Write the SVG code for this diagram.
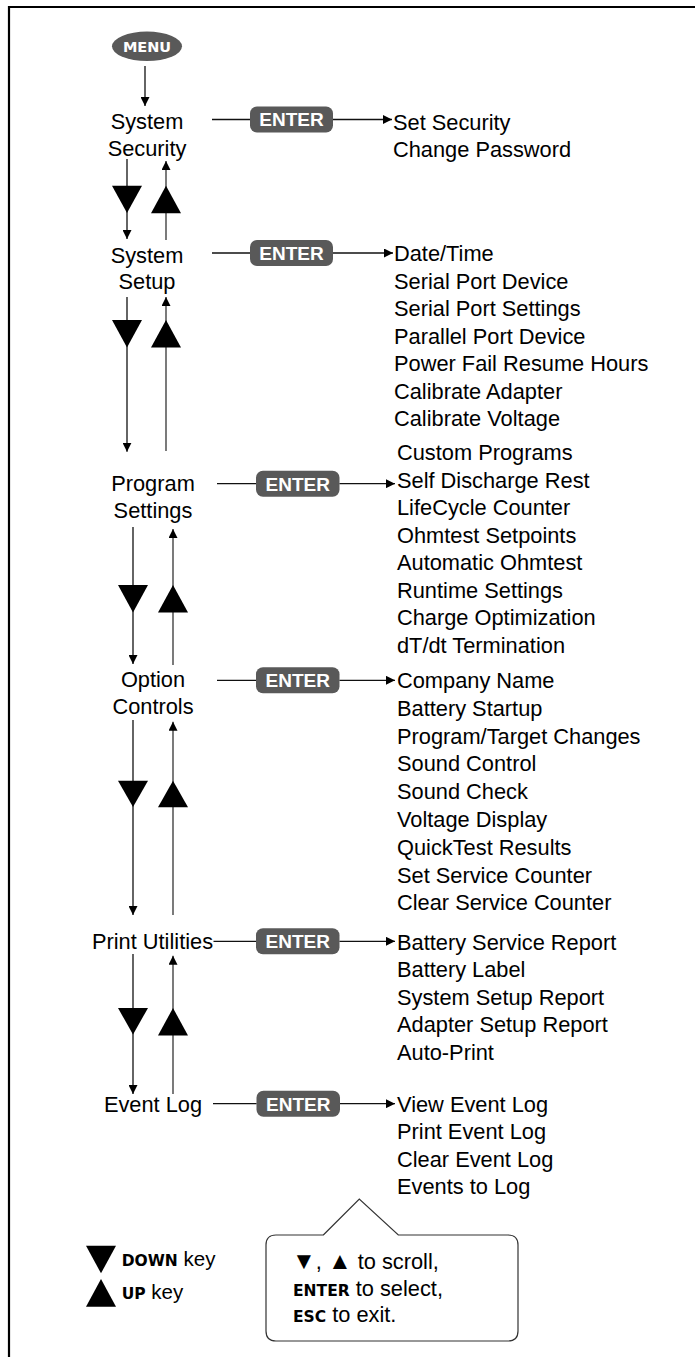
<svg xmlns="http://www.w3.org/2000/svg" width="695" height="1357" viewBox="0 0 695 1357">
<style>
.t{font-family:"Liberation Sans",Arial,sans-serif;font-size:21.8px;fill:#000}
.m{text-anchor:middle}
.btn{font-family:"Liberation Sans",Arial,sans-serif;font-weight:bold;font-size:19px;fill:#fff;text-anchor:middle}
.box{fill:#595959}
.k{font-family:"DejaVu Sans",Verdana,sans-serif;font-weight:bold;font-size:15.5px}
.ln{stroke:#111;stroke-width:1.3;fill:none}
.up{stroke:#333;stroke-width:1.3;fill:none}
.tri{fill:#000}
.lg{font-family:"Liberation Sans",Arial,sans-serif;font-size:20.5px;fill:#000}
.co{font-family:"Liberation Sans",Arial,sans-serif;font-size:21.8px;fill:#000}
.sym{font-family:"Liberation Sans","DejaVu Sans",sans-serif;font-size:24px}
</style>
<defs>
<marker id="ah" markerUnits="userSpaceOnUse" markerWidth="9" markerHeight="9" refX="9" refY="4.5" orient="auto">
<path d="M0,0 L9,4.5 L0,9 z" fill="#000"/>
</marker>
</defs>
<path d="M8,7 H695 M9,6 V1357" stroke="#000" stroke-width="2.2" fill="none"/>

<g id="menu">
<ellipse cx="147" cy="46.3" rx="35" ry="14.7" class="box"/>
<text x="147" y="51.5" class="k m" style="fill:#fff;font-size:14.5px">MENU</text>
</g>

<g id="system-security">
<text x="147" y="129.3" class="t m">System</text>
<text x="147" y="156" class="t m">Security</text>
</g>
<g id="enter1"><rect x="250" y="106.5" width="83" height="26" rx="7" class="box"/><text x="291.5" y="126.3" class="btn">ENTER</text></g>
<g id="list1">
<text x="393" y="129.5" class="t">Set Security</text>
<text x="393" y="157" class="t">Change Password</text>
</g>

<g id="system-setup">
<text x="147" y="263" class="t m">System</text>
<text x="147" y="289" class="t m">Setup</text>
</g>
<g id="enter2"><rect x="250" y="240" width="83" height="26" rx="7" class="box"/><text x="291.5" y="259.8" class="btn">ENTER</text></g>
<g id="list2">
<text x="394" y="261" class="t">Date/Time</text>
<text x="394" y="288.5" class="t">Serial Port Device</text>
<text x="394" y="316" class="t">Serial Port Settings</text>
<text x="394" y="343.5" class="t">Parallel Port Device</text>
<text x="394" y="371" class="t">Power Fail Resume Hours</text>
<text x="394" y="398.5" class="t">Calibrate Adapter</text>
<text x="394" y="426" class="t">Calibrate Voltage</text>
</g>

<g id="program-settings">
<text x="153" y="491" class="t m">Program</text>
<text x="153" y="518" class="t m">Settings</text>
</g>
<g id="enter3"><rect x="256" y="470.7" width="83.5" height="26" rx="7" class="box"/><text x="297.7" y="490.5" class="btn">ENTER</text></g>
<g id="list3">
<text x="397" y="460" class="t">Custom Programs</text>
<text x="397" y="487.5" class="t">Self Discharge Rest</text>
<text x="397" y="515" class="t">LifeCycle Counter</text>
<text x="397" y="542.5" class="t">Ohmtest Setpoints</text>
<text x="397" y="570" class="t">Automatic Ohmtest</text>
<text x="397" y="597.5" class="t">Runtime Settings</text>
<text x="397" y="625" class="t">Charge Optimization</text>
<text x="397" y="652.5" class="t">dT/dt Termination</text>
</g>

<g id="option-controls">
<text x="153" y="687" class="t m">Option</text>
<text x="153" y="714" class="t m">Controls</text>
</g>
<g id="enter4"><rect x="256" y="667.3" width="83.5" height="26" rx="7" class="box"/><text x="297.7" y="687.1" class="btn">ENTER</text></g>
<g id="list4">
<text x="397" y="688" class="t">Company Name</text>
<text x="397" y="715.8" class="t">Battery Startup</text>
<text x="397" y="743.6" class="t">Program/Target Changes</text>
<text x="397" y="771.4" class="t">Sound Control</text>
<text x="397" y="799.2" class="t">Sound Check</text>
<text x="397" y="827" class="t">Voltage Display</text>
<text x="397" y="854.8" class="t">QuickTest Results</text>
<text x="397" y="882.6" class="t">Set Service Counter</text>
<text x="397" y="910.4" class="t">Clear Service Counter</text>
</g>

<g id="print-utilities">
<text x="152.5" y="948.5" class="t m">Print Utilities</text>
</g>
<g id="enter5"><rect x="256" y="928.3" width="83.5" height="26" rx="7" class="box"/><text x="297.7" y="948.1" class="btn">ENTER</text></g>
<g id="list5">
<text x="397" y="949.5" class="t">Battery Service Report</text>
<text x="397" y="977" class="t">Battery Label</text>
<text x="397" y="1004.5" class="t">System Setup Report</text>
<text x="397" y="1032" class="t">Adapter Setup Report</text>
<text x="397" y="1059.5" class="t">Auto-Print</text>
</g>

<g id="event-log">
<text x="153" y="1112" class="t m">Event Log</text>
</g>
<g id="enter6"><rect x="256.5" y="1090.7" width="83.5" height="26" rx="7" class="box"/><text x="298.2" y="1110.5" class="btn">ENTER</text></g>
<g id="list6">
<text x="397" y="1111.7" class="t">View Event Log</text>
<text x="397" y="1139.2" class="t">Print Event Log</text>
<text x="397" y="1166.7" class="t">Clear Event Log</text>
<text x="397" y="1194.2" class="t">Events to Log</text>
</g>

<g id="connectors">
<line x1="145" y1="66" x2="145" y2="106" class="ln" marker-end="url(#ah)"/>
<line x1="212" y1="119.5" x2="250" y2="119.5" class="ln"/>
<line x1="333" y1="119.5" x2="392" y2="119.5" class="ln" marker-end="url(#ah)"/>
<line x1="212" y1="253" x2="250" y2="253" class="ln"/>
<line x1="333" y1="253" x2="393" y2="253" class="ln" marker-end="url(#ah)"/>
<line x1="217" y1="483.7" x2="256" y2="483.7" class="ln"/>
<line x1="339.5" y1="483.7" x2="395" y2="483.7" class="ln" marker-end="url(#ah)"/>
<line x1="217" y1="680.3" x2="256" y2="680.3" class="ln"/>
<line x1="339.5" y1="680.3" x2="395" y2="680.3" class="ln" marker-end="url(#ah)"/>
<line x1="213.5" y1="941.3" x2="256" y2="941.3" class="ln"/>
<line x1="339.5" y1="941.3" x2="395" y2="941.3" class="ln" marker-end="url(#ah)"/>
<line x1="213" y1="1103.7" x2="256.5" y2="1103.7" class="ln"/>
<line x1="340" y1="1103.7" x2="395" y2="1103.7" class="ln" marker-end="url(#ah)"/>
<line x1="127" y1="159" x2="127" y2="239" class="ln" marker-end="url(#ah)"/>
<line x1="166" y1="240" x2="166" y2="161" class="up" marker-end="url(#ah)"/>
<path d="M112,185.7 H142 L127,213 z" class="tri"/>
<path d="M166,185.7 L181,213.3 H151 z" class="tri"/>
<line x1="127" y1="297" x2="127" y2="451.7" class="ln" marker-end="url(#ah)"/>
<line x1="166" y1="451" x2="166" y2="297" class="up" marker-end="url(#ah)"/>
<path d="M112,320 H142 L127,347.5 z" class="tri"/>
<path d="M166,320 L181,347.5 H151 z" class="tri"/>
<line x1="133" y1="527" x2="133" y2="664" class="ln" marker-end="url(#ah)"/>
<line x1="173" y1="665" x2="173" y2="529" class="up" marker-end="url(#ah)"/>
<path d="M118,585 H148 L133,612.5 z" class="tri"/>
<path d="M173,585 L188,612.5 H158 z" class="tri"/>
<line x1="133" y1="720" x2="133" y2="915" class="ln" marker-end="url(#ah)"/>
<line x1="173" y1="915" x2="173" y2="721.7" class="up" marker-end="url(#ah)"/>
<path d="M118,780.7 H148 L133,807 z" class="tri"/>
<path d="M173,780.7 L188,807.3 H158 z" class="tri"/>
<line x1="133" y1="954" x2="133" y2="1094" class="ln" marker-end="url(#ah)"/>
<line x1="173" y1="1094" x2="173" y2="955.7" class="up" marker-end="url(#ah)"/>
<path d="M118,1008 H148 L133,1034.5 z" class="tri"/>
<path d="M173,1008 L188,1035.5 H158 z" class="tri"/>
</g>

<g id="legend">
<path d="M86,1245.7 H116 L101,1273.3 z" class="tri"/>
<text x="121.7" y="1265.5" class="lg"><tspan class="k">DOWN</tspan> key</text>
<path d="M101,1279 L116,1306.7 H86 z" class="tri"/>
<text x="121.7" y="1299" class="lg"><tspan class="k">UP</tspan> key</text>
</g>

<g id="callout">
<path d="M323.3,1235 L359.3,1199 L398.3,1235 H508 Q518,1235 518,1245 V1331 Q518,1341 508,1341 H276 Q266,1341 266,1331 V1245 Q266,1235 276,1235 Z" fill="#fff" stroke="#333" stroke-width="1.2"/>
<text x="292" y="1269" class="co"><tspan class="sym">▼</tspan>, <tspan class="sym">▲</tspan> to scroll,</text>
<text x="293" y="1295.7" class="co"><tspan class="k">ENTER</tspan> to select,</text>
<text x="293" y="1322.3" class="co"><tspan class="k">ESC</tspan> to exit.</text>
</g>
</svg>
